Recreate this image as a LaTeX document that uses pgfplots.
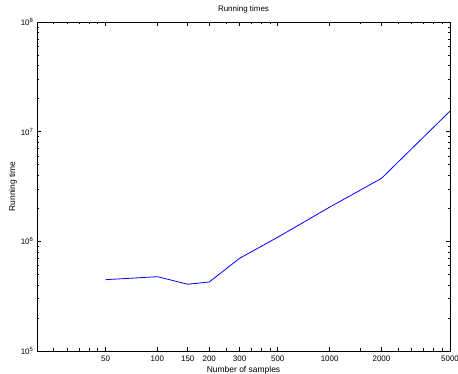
\documentclass[border=0pt]{standalone}
\usepackage{fontspec}
\setmainfont{Liberation Sans}
\usepackage{pgfplots}
\pgfplotsset{compat=1.18}
\begin{document}
\begin{tikzpicture}
\path[use as bounding box] (-37bp,-23bp) rectangle (421bp,351bp);
\begin{axis}[
  at={(0,0)}, anchor=south west,
  scale only axis, width=413bp, height=329bp,
  xmode=log, ymode=log,
  xmin=20, xmax=5000, ymin=1e5, ymax=1e8,
  xtick={50,100,150,200,300,500,1000,2000,5000},
  xticklabels={50,100,150,200,300,500,1000,2000,5000},
  minor xtick={25,30,35,40,45,250,350,400,450,1500,2500,3000,3500,4000,4500},
  ytick={1e5,1e6,1e7,1e8},
  yticklabels={10\textsuperscript{5},10\textsuperscript{6},10\textsuperscript{7},10\textsuperscript{8}},
  minor ytick={2e5,3e5,4e5,5e5,6e5,7e5,8e5,9e5,2e6,3e6,4e6,5e6,6e6,7e6,8e6,9e6,2e7,3e7,4e7,5e7,6e7,7e7,8e7,9e7},
  tick align=inside,
  major tick length=4bp, minor tick length=2.5bp,
  every tick/.style={black, line width=0.6bp},
  axis line style={line width=0.8bp},
  tick label style={font=\fontsize{8}{9}\selectfont},
  xticklabel style={yshift=-1bp},
  label style={font=\fontsize{8.5}{10}\selectfont},
  xlabel={Number of samples},
  ylabel={Running time},
  xlabel style={at={(axis description cs:0.5,0)}, anchor=center, yshift=-19bp},
  ylabel style={at={(axis description cs:0,0.5)}, anchor=center, rotate=0, yshift=24bp},
  title={Running times},
  title style={font=\fontsize{8}{9}\selectfont, at={(axis description cs:0.5,1)}, anchor=center, yshift=7bp},
]
\addplot[blue, line width=0.8bp, mark=none] coordinates {
  (50,4.47e5) (100,4.76e5) (150,4.06e5) (200,4.26e5) (300,7.0e5)
  (500,1.09e6) (1000,2.05e6) (2000,3.75e6) (5000,1.54e7)
};
\end{axis}
\end{tikzpicture}
\end{document}
